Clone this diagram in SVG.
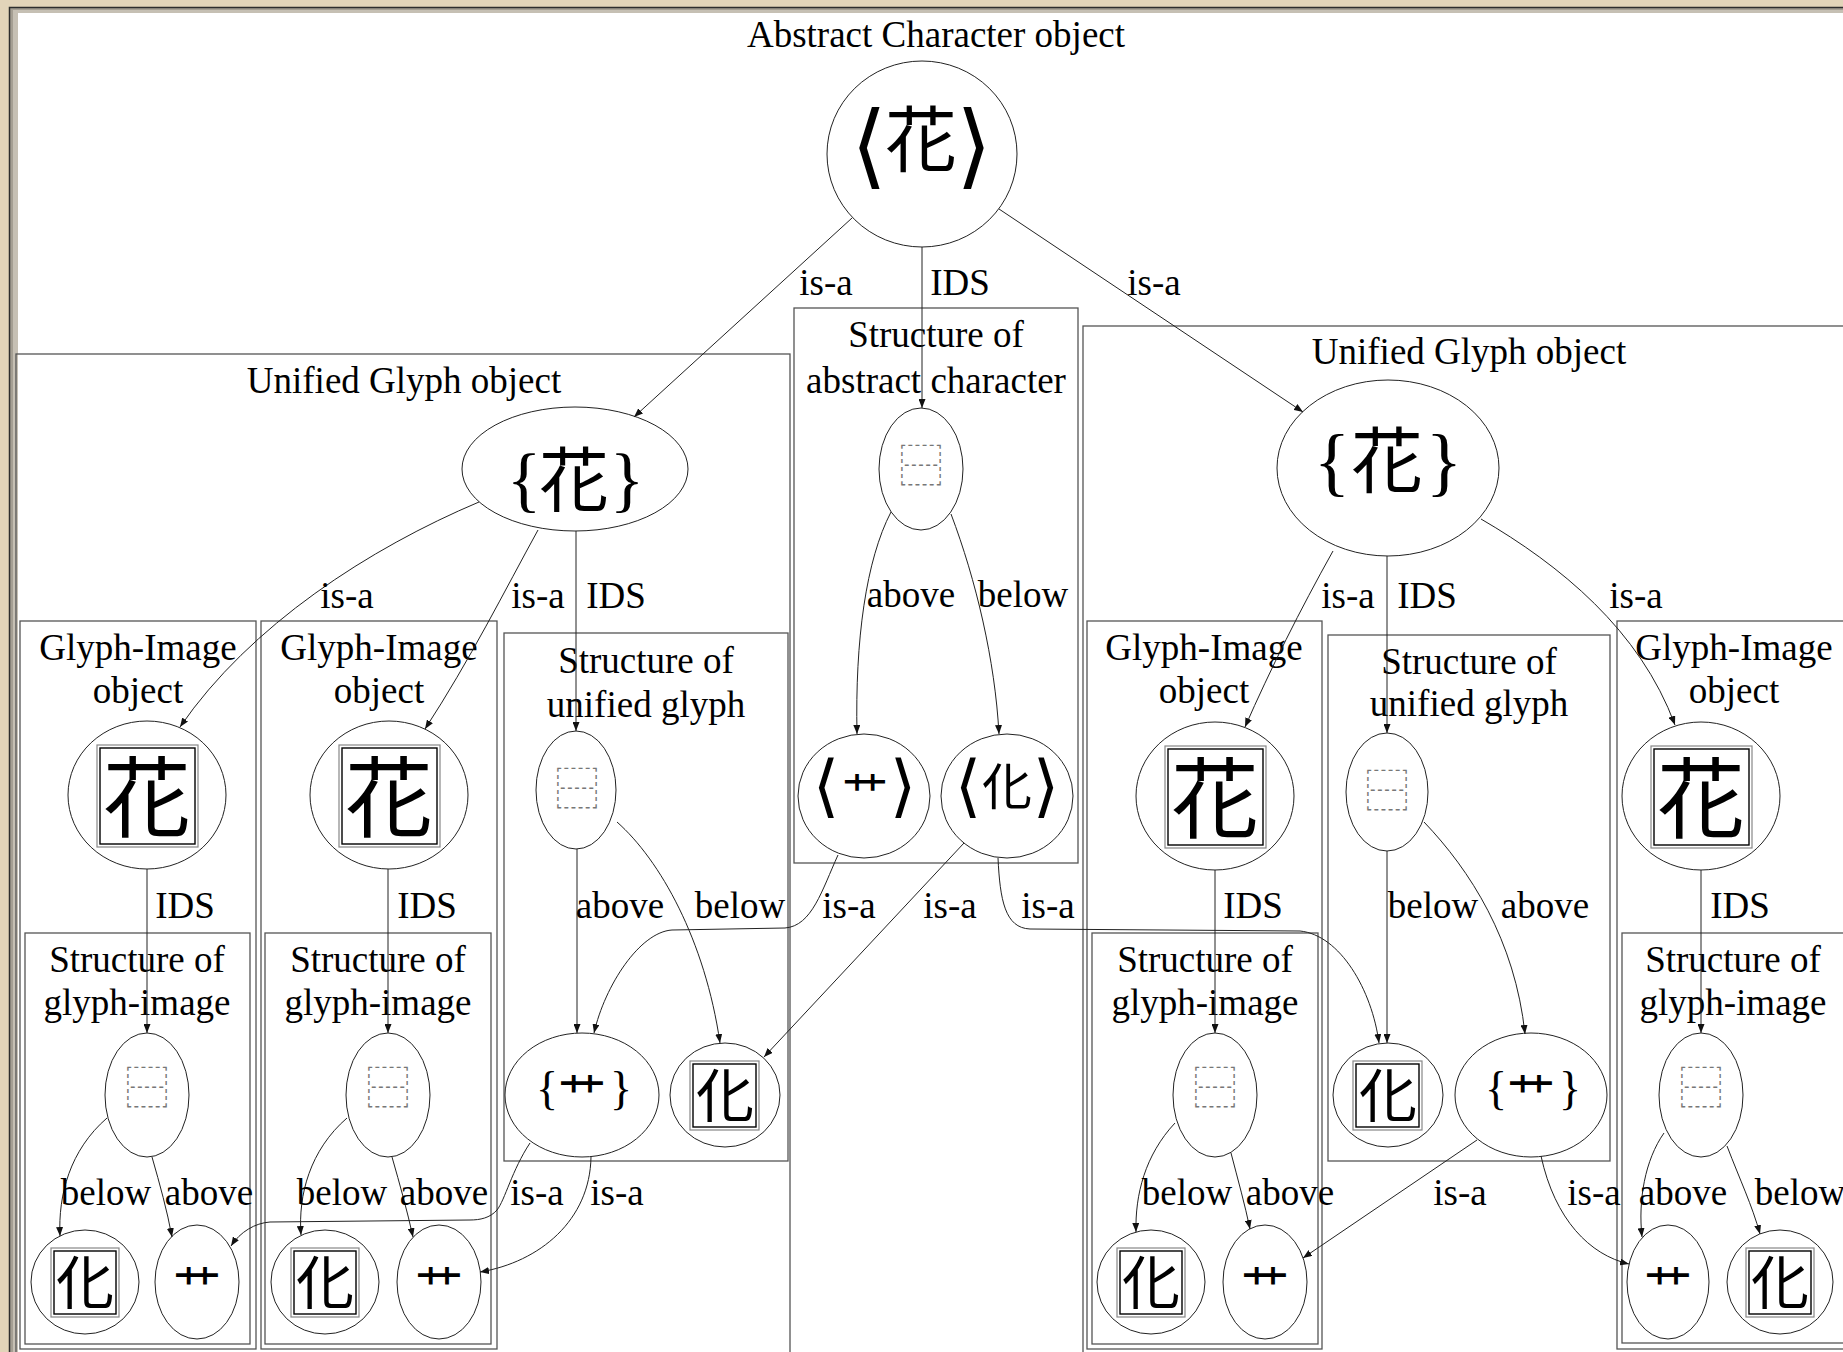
<svg xmlns="http://www.w3.org/2000/svg" width="1843" height="1352" viewBox="0 0 1843 1352">
<defs>
<marker id="ah" viewBox="0 0 9 7" refX="9" refY="3.5" markerWidth="9" markerHeight="7" markerUnits="userSpaceOnUse" orient="auto"><path d="M0,0 L9,3.5 L0,7 z" fill="#111"/></marker>
</defs>
<style>
.cl{fill:none;stroke:#555;stroke-width:1.3}
.nd{fill:none;stroke:#222;stroke-width:1}
.ed{fill:none;stroke:#222;stroke-width:1;marker-end:url(#ah)}
.t{font-family:'Liberation Serif',serif;font-size:37px;fill:#000;text-anchor:middle}
.cj{font-family:'Noto Sans CJK JP',sans-serif;fill:#000;text-anchor:middle}
.lb{font-family:'Liberation Serif',serif;fill:#000;text-anchor:middle}
.dj{font-family:'DejaVu Sans',sans-serif}
.nc{font-family:'Noto Sans CJK JP',sans-serif}
.ids{font-family:'Noto Sans CJK JP',sans-serif;font-size:44px;fill:#777;text-anchor:middle}
.k{font-family:'Noto Sans CJK JP',sans-serif;font-size:48px;fill:#000;text-anchor:middle}
.bo{fill:#fff;stroke:#888;stroke-width:1.2}
.bi{fill:none;stroke:#000;stroke-width:1.4}
</style>
<g id="frame">
<rect width="1843" height="1352" fill="#e2d4b9"/>
<rect x="9.5" y="7.5" width="1850" height="1360" fill="#a59f93" stroke="#2d2d2d" stroke-width="1.5"/>
<rect x="13" y="10" width="1850" height="1360" fill="#c6c0b4"/>
<rect x="18" y="13" width="1850" height="1360" fill="#fff"/>
</g>
<g id="clusters">
<rect class="cl" x="16" y="354" width="774" height="1020"/>
<rect class="cl" x="794" y="308" width="284" height="555"/>
<rect class="cl" x="1083" y="326" width="800" height="1040"/>
<rect class="cl" x="20" y="621" width="236" height="728"/>
<rect class="cl" x="25" y="933" width="225" height="411"/>
<rect class="cl" x="261" y="621" width="236" height="728"/>
<rect class="cl" x="265" y="933" width="226" height="411"/>
<rect class="cl" x="504" y="633" width="284" height="528"/>
<rect class="cl" x="1087" y="621" width="235" height="728"/>
<rect class="cl" x="1092" y="933" width="226" height="411"/>
<rect class="cl" x="1328" y="635" width="282" height="526"/>
<rect class="cl" x="1617" y="621" width="260" height="728"/>
<rect class="cl" x="1622" y="933" width="250" height="410"/>
<text class="t" x="936" y="47">Abstract Character object</text>
<text class="t" x="404" y="393">Unified Glyph object</text>
<text class="t" x="936" y="347">Structure of</text>
<text class="t" x="936" y="393">abstract character</text>
<text class="t" x="1469" y="364">Unified Glyph object</text>
<text class="t" x="138" y="660">Glyph-Image</text><text class="t" x="138" y="703">object</text>
<text class="t" x="379" y="660">Glyph-Image</text><text class="t" x="379" y="703">object</text>
<text class="t" x="646" y="673">Structure of</text><text class="t" x="646" y="717">unified glyph</text>
<text class="t" x="1204" y="660">Glyph-Image</text><text class="t" x="1204" y="703">object</text>
<text class="t" x="1469" y="674">Structure of</text><text class="t" x="1469" y="716">unified glyph</text>
<text class="t" x="1734" y="660">Glyph-Image</text><text class="t" x="1734" y="703">object</text>
<text class="t" x="137" y="972">Structure of</text><text class="t" x="137" y="1015">glyph-image</text>
<text class="t" x="378" y="972">Structure of</text><text class="t" x="378" y="1015">glyph-image</text>
<text class="t" x="1205" y="972">Structure of</text><text class="t" x="1205" y="1015">glyph-image</text>
<text class="t" x="1733" y="972">Structure of</text><text class="t" x="1733" y="1015">glyph-image</text>
</g>
<g id="nodeA"><ellipse class="nd" cx="922" cy="154" rx="95" ry="93"/>
<text class="lb"><tspan class="dj" x="869" y="177" font-size="92">⟨</tspan><tspan class="nc" x="921" y="166" font-size="72">花</tspan><tspan class="dj" x="974" y="177" font-size="92">⟩</tspan></text></g>
<g id="nodeSA"><ellipse class="nd" cx="921" cy="469" rx="42" ry="61"/><text class="ids" x="921" y="482">⿱</text></g>
<g id="nodeAK"><ellipse class="nd" cx="864" cy="796" rx="66" ry="62"/>
<text class="lb"><tspan class="dj" x="826" y="809" font-size="68">⟨</tspan><tspan class="nc" x="865" y="810" font-size="46">⺾</tspan><tspan class="dj" x="903" y="809" font-size="68">⟩</tspan></text></g>
<g id="nodeAH"><ellipse class="nd" cx="1007" cy="796" rx="66" ry="62"/>
<text class="lb"><tspan class="dj" x="968" y="809" font-size="68">⟨</tspan><tspan class="nc" x="1007" y="805" font-size="50">化</tspan><tspan class="dj" x="1046" y="809" font-size="68">⟩</tspan></text></g>
<g id="nodeUL"><ellipse class="nd" cx="575" cy="469" rx="113" ry="62"/>
<text class="lb"><tspan x="524" y="503" font-size="72">{</tspan><tspan class="nc" x="574" y="506" font-size="70">花</tspan><tspan x="627" y="503" font-size="72">}</tspan></text></g>
<g id="nodeUR"><ellipse class="nd" cx="1388" cy="468" rx="111" ry="88"/>
<text class="lb"><tspan x="1332" y="487" font-size="76">{</tspan><tspan class="nc" x="1387" y="487" font-size="72">花</tspan><tspan x="1444" y="487" font-size="76">}</tspan></text></g>
<g id="nodeG1"><ellipse class="nd" cx="147" cy="795" rx="79" ry="74"/><rect class="bo" x="97" y="745" width="101" height="102"/><rect class="bi" x="100" y="748" width="95" height="96"/><text class="cj" x="147" y="830" font-size="88">花</text></g>
<g id="nodeG2"><ellipse class="nd" cx="389" cy="795" rx="79" ry="74"/><rect class="bo" x="339" y="745" width="101" height="102"/><rect class="bi" x="342" y="748" width="95" height="96"/><text class="cj" x="389" y="830" font-size="88">花</text></g>
<g id="nodeG3"><ellipse class="nd" cx="1215" cy="796" rx="79" ry="74"/><rect class="bo" x="1165" y="746" width="101" height="102"/><rect class="bi" x="1168" y="749" width="95" height="96"/><text class="cj" x="1215" y="831" font-size="88">花</text></g>
<g id="nodeG5"><ellipse class="nd" cx="1701" cy="796" rx="79" ry="74"/><rect class="bo" x="1651" y="746" width="101" height="102"/><rect class="bi" x="1654" y="749" width="95" height="96"/><text class="cj" x="1701" y="831" font-size="88">花</text></g>
<g id="nodeULn"><ellipse class="nd" cx="576" cy="790" rx="40" ry="59"/><text class="ids" x="577" y="805">⿱</text></g>
<g id="nodeURn"><ellipse class="nd" cx="1387" cy="792" rx="41" ry="59"/><text class="ids" x="1387" y="807">⿱</text></g>
<g id="nodeS1n"><ellipse class="nd" cx="147" cy="1095" rx="42" ry="62"/><text class="ids" x="147" y="1104">⿱</text></g>
<g id="nodeS2n"><ellipse class="nd" cx="388" cy="1095" rx="42" ry="62"/><text class="ids" x="388" y="1104">⿱</text></g>
<g id="nodeS3n"><ellipse class="nd" cx="1215" cy="1095" rx="42" ry="62"/><text class="ids" x="1215" y="1104">⿱</text></g>
<g id="nodeS5n"><ellipse class="nd" cx="1701" cy="1095" rx="42" ry="62"/><text class="ids" x="1701" y="1104">⿱</text></g>
<g id="nodeULk"><ellipse class="nd" cx="582" cy="1095" rx="77" ry="62"/>
<text class="lb"><tspan x="547" y="1104" font-size="46">{</tspan><tspan class="nc" x="582" y="1113" font-size="48">⺾</tspan><tspan x="621" y="1104" font-size="46">}</tspan></text></g>
<g id="nodeURk"><ellipse class="nd" cx="1531" cy="1095" rx="76" ry="62"/>
<text class="lb"><tspan x="1496" y="1104" font-size="46">{</tspan><tspan class="nc" x="1531" y="1113" font-size="48">⺾</tspan><tspan x="1570" y="1104" font-size="46">}</tspan></text></g>
<g id="nodeULh"><ellipse class="nd" cx="725" cy="1095" rx="55" ry="52"/><rect class="bo" x="690" y="1061" width="69" height="69"/><rect class="bi" x="693" y="1064" width="63" height="63"/><text class="cj" x="725" y="1117" font-size="58">化</text></g>
<g id="nodeURh"><ellipse class="nd" cx="1388" cy="1095" rx="55" ry="52"/><rect class="bo" x="1353" y="1061" width="69" height="69"/><rect class="bi" x="1356" y="1064" width="63" height="63"/><text class="cj" x="1388" y="1117" font-size="58">化</text></g>
<g id="nodeS1h"><ellipse class="nd" cx="85" cy="1282" rx="54" ry="52"/><rect class="bo" x="51" y="1248" width="68" height="69"/><rect class="bi" x="54" y="1251" width="62" height="63"/><text class="cj" x="85" y="1304" font-size="58">化</text></g>
<g id="nodeS2h"><ellipse class="nd" cx="325" cy="1282" rx="54" ry="52"/><rect class="bo" x="291" y="1248" width="68" height="69"/><rect class="bi" x="294" y="1251" width="62" height="63"/><text class="cj" x="325" y="1304" font-size="58">化</text></g>
<g id="nodeS3h"><ellipse class="nd" cx="1151" cy="1282" rx="54" ry="52"/><rect class="bo" x="1117" y="1248" width="68" height="69"/><rect class="bi" x="1120" y="1251" width="62" height="63"/><text class="cj" x="1151" y="1304" font-size="58">化</text></g>
<g id="nodeS5h"><ellipse class="nd" cx="1780" cy="1282" rx="53" ry="52"/><rect class="bo" x="1746" y="1248" width="68" height="69"/><rect class="bi" x="1749" y="1251" width="62" height="63"/><text class="cj" x="1780" y="1304" font-size="58">化</text></g>
<g id="nodeS1k"><ellipse class="nd" cx="197" cy="1282" rx="42" ry="57"/><text class="k" x="197" y="1305">⺾</text></g>
<g id="nodeS2k"><ellipse class="nd" cx="439" cy="1282" rx="42" ry="57"/><text class="k" x="439" y="1305">⺾</text></g>
<g id="nodeS3k"><ellipse class="nd" cx="1265" cy="1282" rx="42" ry="57"/><text class="k" x="1265" y="1305">⺾</text></g>
<g id="nodeS5k"><ellipse class="nd" cx="1668" cy="1282" rx="41" ry="57"/><text class="k" x="1668" y="1305">⺾</text></g>
<g id="connectors">
<path class="ed" d="M852,218 L634,417"/>
<path class="ed" d="M922,247 L922,408"/>
<path class="ed" d="M999,209 L1303,412"/>
<path class="ed" d="M891,512 C866,560 855,640 857,734"/>
<path class="ed" d="M951,514 C976,580 995,660 999,734"/>
<path class="ed" d="M479,502 C370,548 250,625 180,727"/>
<path class="ed" d="M538,530 C505,590 470,660 425,729"/>
<path class="ed" d="M576,531 L576,731"/>
<path class="ed" d="M147,869 L147,1033"/>
<path class="ed" d="M388,869 L388,1033"/>
<path class="ed" d="M107,1118 C70,1150 58,1195 60,1236"/>
<path class="ed" d="M152,1157 C160,1185 167,1210 172,1237"/>
<path class="ed" d="M347,1118 C310,1150 298,1195 301,1235"/>
<path class="ed" d="M392,1157 C400,1185 407,1210 413,1237"/>
<path class="ed" d="M577,849 L577,1033"/>
<path class="ed" d="M617,822 C660,860 705,940 720,1043"/>
<path class="ed" d="M838,855 C822,890 812,926 785,928 L672,930 C640,932 605,985 594,1033"/>
<path class="ed" d="M964,843 L764,1057"/>
<path class="ed" d="M998,858 C1000,900 1005,928 1030,929 L1300,931 C1340,935 1372,990 1379,1043"/>
<path class="ed" d="M530,1143 C512,1170 505,1200 497,1210 C490,1218 480,1220 470,1220 L270,1222 C255,1223 240,1232 231,1246"/>
<path class="ed" d="M591,1157 C590,1220 540,1262 480,1272"/>
<path class="ed" d="M1333,551 C1300,610 1270,670 1245,727"/>
<path class="ed" d="M1387,556 L1387,733"/>
<path class="ed" d="M1481,519 C1560,565 1640,630 1675,725"/>
<path class="ed" d="M1215,870 L1215,1033"/>
<path class="ed" d="M1701,870 L1701,1033"/>
<path class="ed" d="M1175,1123 C1145,1155 1135,1195 1136,1232"/>
<path class="ed" d="M1231,1153 C1238,1180 1245,1205 1250,1229"/>
<path class="ed" d="M1664,1133 C1645,1160 1638,1200 1642,1237"/>
<path class="ed" d="M1727,1146 C1740,1180 1752,1205 1760,1234"/>
<path class="ed" d="M1387,851 L1387,1043"/>
<path class="ed" d="M1424,822 C1470,870 1515,940 1525,1034"/>
<path class="ed" d="M1477,1140 L1303,1258"/>
<path class="ed" d="M1541,1156 C1555,1220 1590,1255 1629,1264"/>
<g id="labels">
<text class="t" x="826" y="295">is-a</text><text class="t" x="960" y="295">IDS</text><text class="t" x="1154" y="295">is-a</text>
<text class="t" x="911" y="607">above</text><text class="t" x="1023" y="607">below</text>
<text class="t" x="347" y="608">is-a</text><text class="t" x="538" y="608">is-a</text><text class="t" x="616" y="608">IDS</text>
<text class="t" x="1348" y="608">is-a</text><text class="t" x="1427" y="608">IDS</text><text class="t" x="1636" y="608">is-a</text>
<text class="t" x="185" y="918">IDS</text><text class="t" x="427" y="918">IDS</text><text class="t" x="620" y="918">above</text><text class="t" x="740" y="918">below</text>
<text class="t" x="849" y="918">is-a</text><text class="t" x="950" y="918">is-a</text><text class="t" x="1048" y="918">is-a</text>
<text class="t" x="1253" y="918">IDS</text><text class="t" x="1433" y="918">below</text><text class="t" x="1545" y="918">above</text><text class="t" x="1740" y="918">IDS</text>
<text class="t" x="106" y="1205">below</text><text class="t" x="209" y="1205">above</text><text class="t" x="342" y="1205">below</text><text class="t" x="444" y="1205">above</text>
<text class="t" x="537" y="1205">is-a</text><text class="t" x="617" y="1205">is-a</text>
<text class="t" x="1187" y="1205">below</text><text class="t" x="1290" y="1205">above</text>
<text class="t" x="1460" y="1205">is-a</text><text class="t" x="1594" y="1205">is-a</text>
<text class="t" x="1683" y="1205">above</text><text class="t" x="1800" y="1205">below</text>
</g>
</g>
</svg>
